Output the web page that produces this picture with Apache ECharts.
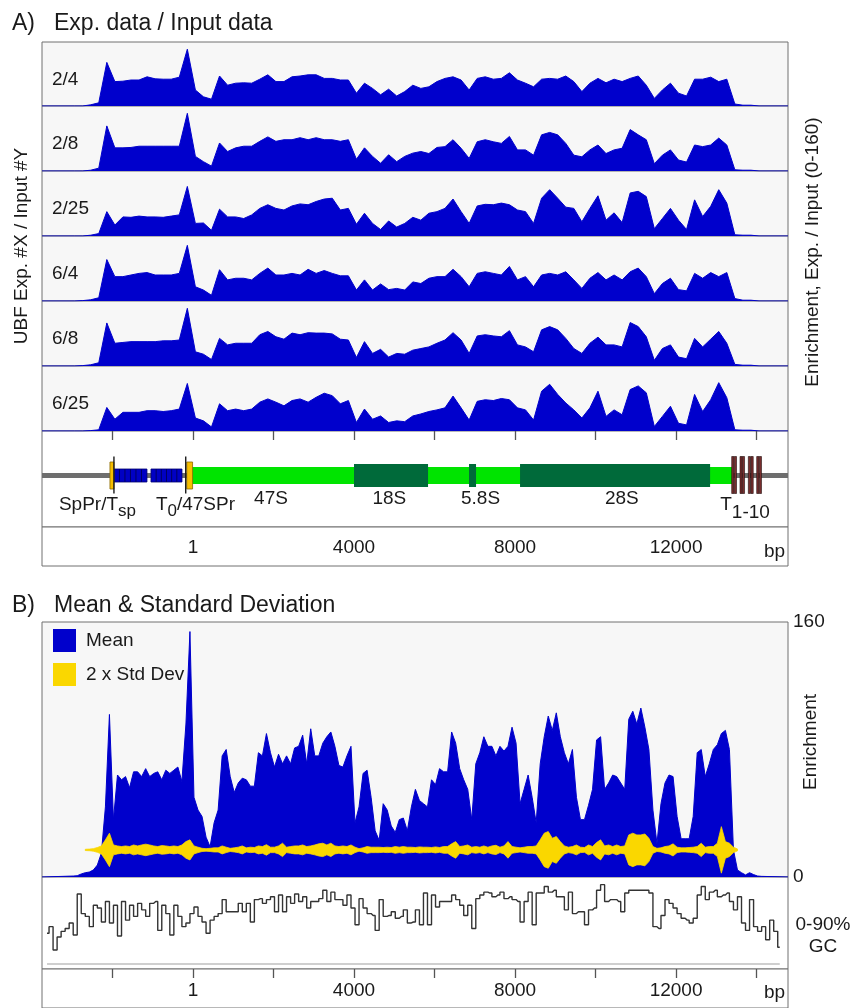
<!DOCTYPE html>
<html><head><meta charset="utf-8">
<script src="https://cdn.jsdelivr.net/npm/echarts@6/dist/echarts.min.js"></script>
<style>html,body{margin:0;padding:0;background:#fff}#c{width:852px;height:1008px}</style>
</head><body><div id="c"></div>
<script>
// ---------------- DATA ----------------
const X_MIN = -3750, X_MAX = 14780;                 // bp range of the plots
const tickValues = [-2000, 0, 2000, 4000, 6000, 8000, 10000, 12000, 14000];
const labelValues = [0, 4000, 8000, 12000];
const labelTexts = ['1', '4000', '8000', '12000'];

// Panel A: enrichment profiles (0-160), sampled every 200 bp from -2940 bp
const rowNames = ['2/4', '2/8', '2/25', '6/4', '6/8', '6/25'];
const rowStartBp = -2940, rowStepBp = 200;
const row2_4 = [0,0,3,8,109,61,62,65,65,73,68,67,67,72,142,40,23,17,75,52,57,58,57,67,78,61,61,73,75,78,78,69,69,65,65,32,57,44,28,42,25,36,52,44,48,61,69,73,65,40,69,73,67,69,83,65,57,48,67,69,67,75,61,36,57,69,58,67,61,69,75,52,19,40,57,32,25,67,67,72,61,67,5,2,2,0];
const row2_8 = [0,0,2,7,111,57,57,58,61,61,61,61,61,61,142,36,23,12,69,48,57,61,61,73,84,73,77,77,82,77,82,77,77,73,77,29,57,36,19,40,23,36,44,48,43,58,60,77,56,31,72,77,72,68,85,52,52,39,89,95,89,68,39,35,52,64,43,52,56,102,89,77,18,39,52,27,22,64,60,64,81,64,3,2,2,0];
const row2_25 = [0,0,2,6,60,27,47,46,49,47,47,46,49,52,122,31,32,14,66,47,47,43,52,68,77,68,64,74,79,77,85,91,93,64,68,29,56,31,16,37,22,31,46,39,56,60,68,91,60,31,74,78,77,81,77,64,60,31,93,114,93,71,68,35,68,99,39,57,33,106,110,97,18,43,68,39,16,89,48,73,114,81,3,2,2,0];
const row6_4 = [0,1,3,8,102,60,60,64,68,70,64,64,64,68,137,35,27,14,77,52,56,56,52,68,81,64,64,68,64,78,68,75,68,62,62,27,52,27,42,28,31,27,47,43,56,60,60,78,60,35,68,72,68,64,85,52,60,35,64,68,64,72,52,31,56,70,52,64,52,72,81,60,18,43,56,28,25,68,56,70,60,70,6,2,2,0];
const row6_8 = [0,1,3,8,106,56,58,60,60,60,60,62,62,64,142,35,29,16,68,52,56,56,56,77,85,72,66,81,77,82,81,81,79,66,64,21,60,31,41,22,31,29,39,43,47,56,64,82,64,31,74,77,74,72,87,52,47,35,89,97,89,68,43,31,56,71,52,52,47,107,97,72,14,43,52,22,18,68,47,66,85,56,4,2,2,0];
const row6_25 = [0,0,1,3,58,29,46,46,46,50,50,48,50,54,117,32,25,10,67,50,54,50,54,71,79,71,62,75,79,71,83,93,87,67,75,21,54,29,37,21,25,23,37,42,48,52,57,86,57,27,73,77,75,80,77,57,52,27,98,115,90,69,52,32,57,98,36,52,40,102,111,94,11,36,61,19,15,90,48,77,119,82,3,2,2,0];
const rowValues = [row2_4, row2_8, row2_25, row6_4, row6_8, row6_25];

// Panel B: mean enrichment, sampled every 100 bp from -2975 bp
const meanStartBp = -2975, meanStepBp = 100;
const meanValues = [0.6,0.8,1.9,2.7,3.1,4.4,7.5,15,44,102,
 36,64,61,63,56,66,66,63,68,63, 65,66,61,67,65,67,69,60,96,154,
 50,42,38,25,19,34,42,76,80,63, 53,59,62,61,57,57,78,76,90,78,
 69,77,71,76,71,81,82,89,71,93, 76,76,84,88,91,82,70,69,76,82,
 34,44,65,67,50,29,23,46,42,32, 28,36,37,29,44,55,48,46,44,61,
 58,68,66,66,91,84,68,61,55,36, 71,78,88,82,82,76,82,79,82,94,
 84,46,55,64,50,34,71,88,101,92, 103,88,78,71,80,50,36,36,45,55,
 86,88,55,59,64,63,59,55,99,104, 96,106,94,80,42,21,46,59,64,63,
 38,24,24,24,38,78,80,63,71,80, 83,90,92,80,17,4.4,2.7,1.3,2.7,1.5,
 0.6,0.4];
// Std dev band: drawn around a fixed level, half-widths per sample (same grid, from the 4th sample)
const sdLevel = 17;
const sdFirstIndex = 3;
const sdHalf = [0.4,0.5,0.8,1.5,2.5,6.3,10.5,
 3.1,2.5,2.1,2.5,2.1,3.1,2.5,3.1,3.6,3.1, 2.5,2.1,2.7,2.5,2.1,2.5,2.1,3.1,5.2,6.3,
 2.5,1.7,1,0.8,1,1.3,1.3,2.5,1.7,1, 1.3,1.7,2.5,1.3,1.7,1.5,2.5,2.1,3.3,1.7,
 1.7,2.5,4.2,1.7,2.1,2.5,2.5,3.1,2.1,2.5, 3.1,3.8,4.2,3.1,4.2,2.5,2.1,2.5,2.1,3.1,
 1.7,0.8,1.3,2.1,1.7,1.7,1.7,1.5,1.7,1.5, 2.1,1.7,2.1,1.7,1.7,1.5,1.9,1.7,1.7,1.5,
 1.9,1.5,2.1,2.1,3.8,5.2,2.1,2.5,3.1,1.7, 2.1,1.7,2.5,1.7,2.5,2.9,1.7,2.5,5.2,2.1,
 1.7,1.3,1.7,2.1,2.1,2.5,6.3,10.5,11.5,7.3, 8.4,5.2,2.5,1.7,2.1,3.1,1.7,1.5,3.1,2.1,
 4.6,6.3,2.5,3.1,2.1,3.1,2.1,2.5,9.4,10.5, 9.4,9.4,10,7.3,2.1,1,1.3,2.1,2.5,3.8,
 1.7,1.3,1.3,1.5,1.7,2.1,4.2,1.7,2.1,2.1, 4.2,14.6,5.2,4.2,1.7,0.6];

// GC content (%), step profile every 100 bp from -3625 bp
const gcStartBp = -3625, gcStepBp = 100;
const gcValues = [33,40,15,29,35,38,44,31,75,54, 51,40,63,60,45,67,44,63,30,67,
 47,63,51,65,58,51,65,67,36,63, 54,31,63,51,40,44,54,61,51,45,
 33,47,51,54,69,56,56,56,65,56, 65,45,69,70,65,69,72,56,74,56,
 72,65,75,67,72,60,67,67,70,79, 67,77,69,69,63,74,60,42,70,60,
 54,52,36,69,51,52,56,49,51,58, 44,45,58,42,76,42,74,61,67,67,
 67,74,69,63,52,63,38,70,74,77, 76,72,74,77,70,72,69,67,45,67,
 77,42,76,76,83,77,79,72,72,58, 77,54,56,56,42,58,60,79,85,67,
 69,69,67,56,76,79,79,79,79,79, 76,40,38,52,69,65,60,54,49,47,
 44,49,74,83,69,77,79,72,74,76, 67,58,72,44,36,69,40,35,40,26,
 47,35,18];

// rDNA map features (bp)
const regionNames = ['IGS', 'Enhancer 1', 'Enhancer 2', '47S', '18S', '5.8S', '28S'];
const regionStart = [X_MIN, -1963, -1043, -25, 4000, 6857, 8124];
const regionEnd   = [X_MAX, -1143, -273, 13391, 5839, 7031, 12845];
const regionKind  = ['spacer', 'repeat', 'repeat', 'pre', 'mature', 'mature', 'mature'];
const regionRepeats = [0, 6, 6, 0, 0, 0, 0];
const promoterStart = [-2062, -155];
const promoterEnd   = [-1963, -10];
const boundarySites = [-1963, -180];
const terminatorSites = [13409, 13474, 13615, 13673, 13822, 13889, 14030, 14094];
const mapLabels = ['{m|SpPr/T}{s|sp}', '{m|T}{s|0}{m|/47SPr}', '47S', '18S', '5.8S', '28S', '{m|T}{S|1-10}'];
const mapLabelBp = [-2373, 62, 1938, 4878, 7143, 10653, 13714];

// ---------------- STYLE / LAYOUT ----------------
const FONT = '"Liberation Sans", Arial, Helvetica, sans-serif';
const BLUE = '#0000cc', YELLOW = '#fad700', FRAME = '#707070', PANEL_BG = '#f7f7f7', TXT = '#1a1a1a';
const PLOT_LEFT = 42, PLOT_W = 746;
const rowTops = [42, 106, 171, 236, 301, 366];
const ROWS_BOTTOM = 431;
const MAP_MID = 44.5;
const kindHeight = {spacer: 5, repeat: 13, pre: 17, mature: 23};
const kindColor = {spacer: '#6e6e6e', repeat: '#0000c4', pre: '#00e400', mature: '#006a3a'};

const pairs = (start, step, vals) => vals.map((v, i) => [start + step * i, v]);
const padded = (arr) => [[X_MIN, 0]].concat(arr, [[X_MAX, 0]]);

const meanPairs = pairs(meanStartBp, meanStepBp, meanValues);
const sdPos = meanPairs.slice(sdFirstIndex, sdFirstIndex + sdHalf.length).map(p => p[0]);
const gcPairs = pairs(gcStartBp, gcStepBp, gcValues);

const chart = echarts.init(document.getElementById('c'), null, {renderer: 'canvas'});

const grids = [], xAxes = [], yAxes = [], series = [];
const hiddenX = (g) => ({gridIndex: g, type: 'value', min: X_MIN, max: X_MAX, show: false});
const tickX = (g, margin) => ({
  gridIndex: g, type: 'value', min: X_MIN, max: X_MAX, position: 'bottom',
  axisLine: {show: false},
  axisTick: {show: true, inside: false, length: 9, customValues: tickValues, lineStyle: {color: '#555', width: 1.3}},
  axisLabel: {show: true, customValues: labelValues, margin: margin, fontSize: 19, fontFamily: FONT, color: TXT,
    formatter: v => { const k = labelValues.indexOf(v); return k >= 0 ? labelTexts[k] : ''; }},
  splitLine: {show: false}
});

// rows 0-5
rowTops.forEach((t, i) => {
  const bottom = i < 5 ? rowTops[i + 1] : ROWS_BOTTOM;
  grids.push({left: PLOT_LEFT, width: PLOT_W, top: t, height: bottom - t, show: true, backgroundColor: PANEL_BG, borderColor: FRAME, borderWidth: 1});
  xAxes.push(hiddenX(i));
  yAxes.push({gridIndex: i, type: 'value', min: 0, max: 160, show: false});
  series.push({
    type: 'line', name: rowNames[i], xAxisIndex: i, yAxisIndex: i, silent: true,
    data: padded(pairs(rowStartBp, rowStepBp, rowValues[i])),
    symbol: 'none', lineStyle: {color: BLUE, width: 1}, areaStyle: {color: BLUE, opacity: 1}, z: 2
  });
});
// 6 gene map
grids.push({left: PLOT_LEFT, width: PLOT_W, top: ROWS_BOTTOM, height: 96, show: true, backgroundColor: '#fff', borderColor: FRAME, borderWidth: 1});
xAxes.push(tickX(6, 11));
yAxes.push({gridIndex: 6, type: 'value', min: 0, max: 96, inverse: true, show: false});
// 7 axis frame A
grids.push({left: PLOT_LEFT, width: PLOT_W, top: 527, height: 39, show: true, backgroundColor: '#fff', borderColor: FRAME, borderWidth: 1});
xAxes.push(hiddenX(7));
yAxes.push({gridIndex: 7, type: 'value', min: 0, max: 1, show: false});
// 8 mean
grids.push({left: PLOT_LEFT, width: PLOT_W, top: 622, height: 255, show: true, backgroundColor: PANEL_BG, borderColor: FRAME, borderWidth: 1});
xAxes.push(hiddenX(8));
yAxes.push({gridIndex: 8, type: 'value', min: 0, max: 160, interval: 160, position: 'right',
  axisLine: {show: false}, axisTick: {show: false}, splitLine: {show: false},
  axisLabel: {show: true, margin: 5, fontSize: 19, fontFamily: FONT, color: TXT}});
// 9 GC frame
grids.push({left: PLOT_LEFT, width: PLOT_W, top: 877, height: 92, show: true, backgroundColor: '#fff', borderColor: FRAME, borderWidth: 1});
xAxes.push(tickX(9, 12));
yAxes.push({gridIndex: 9, type: 'value', min: 0, max: 1, show: false});
// 10 GC data
grids.push({left: PLOT_LEFT, width: PLOT_W, top: 880, height: 84, show: false});
xAxes.push(hiddenX(10));
yAxes.push({gridIndex: 10, type: 'value', min: 0, max: 90, show: false});
// 11 axis frame B
grids.push({left: PLOT_LEFT, width: PLOT_W, top: 969, height: 60, show: true, backgroundColor: '#fff', borderColor: FRAME, borderWidth: 1});
xAxes.push(hiddenX(11));
yAxes.push({gridIndex: 11, type: 'value', min: 0, max: 1, show: false});

// gene map series
series.push({
  type: 'custom', xAxisIndex: 6, yAxisIndex: 6, silent: true, z: 3,
  data: regionStart.map((s, i) => [s, regionEnd[i], i]),
  renderItem: (params, api) => {
    const i = api.value(2);
    const a = api.coord([api.value(0), MAP_MID]);
    const b = api.coord([api.value(1), MAP_MID]);
    const kind = regionKind[i];
    const h = kindHeight[kind];
    const shape = {x: a[0], y: a[1] - h / 2, width: b[0] - a[0], height: h};
    const children = [{type: 'rect', shape: shape, style: {fill: kindColor[kind]}}];
    if (kind === 'repeat') {
      const n = regionRepeats[i];
      for (let j = 1; j < n; j++) {
        const x = a[0] + (b[0] - a[0]) * j / n;
        children.push({type: 'line', shape: {x1: x, y1: shape.y, x2: x, y2: shape.y + h}, style: {stroke: '#000060', lineWidth: 1}});
      }
      children.push({type: 'rect', shape: shape, style: {fill: 'none', stroke: '#000070', lineWidth: 0.8}});
    }
    return {type: 'group', children: children};
  }
});
series.push({
  type: 'custom', xAxisIndex: 6, yAxisIndex: 6, silent: true, z: 4,
  data: promoterStart.map((s, i) => [s, promoterEnd[i]]),
  renderItem: (params, api) => {
    const a = api.coord([api.value(0), MAP_MID]);
    const b = api.coord([api.value(1), MAP_MID]);
    return {type: 'rect', shape: {x: a[0], y: a[1] - 13.5, width: Math.max(3, b[0] - a[0]), height: 27},
      style: {fill: '#f6be00', stroke: '#8c6a00', lineWidth: 0.8}};
  }
});
series.push({
  type: 'custom', xAxisIndex: 6, yAxisIndex: 6, silent: true, z: 5,
  data: boundarySites.map(s => [s, 0]),
  renderItem: (params, api) => {
    const a = api.coord([api.value(0), MAP_MID]);
    return {type: 'line', shape: {x1: a[0], y1: a[1] - 19, x2: a[0], y2: a[1] + 18}, style: {stroke: '#1a1a1a', lineWidth: 1.4}};
  }
});
series.push({
  type: 'custom', xAxisIndex: 6, yAxisIndex: 6, silent: true, z: 5,
  data: terminatorSites.map(s => [s, 0]),
  renderItem: (params, api) => {
    const a = api.coord([api.value(0), MAP_MID]);
    return {type: 'rect', shape: {x: a[0] - 1.1, y: a[1] - 19, width: 2.2, height: 37},
      style: {fill: '#7a2e2e', stroke: '#1e0c0c', lineWidth: 0.6}};
  }
});
series.push({
  type: 'custom', xAxisIndex: 6, yAxisIndex: 6, silent: true, z: 6,
  data: mapLabelBp.map((p, i) => [p, i]),
  renderItem: (params, api) => {
    const i = api.value(1);
    const txt = mapLabels[i];
    const rich = txt.indexOf('{') === 0;
    const p = api.coord([api.value(0), rich ? 75.3 : 67.5]);
    return {type: 'text', x: p[0], y: p[1], style: {
      text: txt, align: 'center', verticalAlign: 'middle', fontSize: 19, fontFamily: FONT, fill: TXT,
      rich: {
        m: {fontSize: 19, fontFamily: FONT, fill: TXT, color: TXT, lineHeight: 22, verticalAlign: 'top'},
        s: {fontSize: 17, fontFamily: FONT, fill: TXT, color: TXT, lineHeight: 17, verticalAlign: 'top', padding: [8, 0, 0, 0]},
        S: {fontSize: 19, fontFamily: FONT, fill: TXT, color: TXT, lineHeight: 19, verticalAlign: 'top', padding: [8, 0, 0, 0]}
      }
    }};
  }
});

// mean + std dev band
series.push({
  type: 'line', name: 'Mean', xAxisIndex: 8, yAxisIndex: 8, silent: true, z: 2,
  data: padded(meanPairs), symbol: 'none', itemStyle: {color: BLUE},
  lineStyle: {color: BLUE, width: 1}, areaStyle: {color: BLUE, opacity: 1}
});
series.push({
  type: 'custom', name: '2 x Std Dev', xAxisIndex: 8, yAxisIndex: 8, silent: true, z: 3,
  itemStyle: {color: YELLOW},
  data: sdPos.map((x, i) => [x, sdLevel - sdHalf[i], sdLevel + sdHalf[i]]),
  renderItem: (params, api) => {
    if (params.dataIndex !== 0) return;
    const top = [], bot = [];
    for (let i = 0; i < sdPos.length; i++) {
      top.push(api.coord([sdPos[i], sdLevel + sdHalf[i]]));
      bot.push(api.coord([sdPos[i], sdLevel - sdHalf[i]]));
    }
    return {type: 'polygon', shape: {points: top.concat(bot.reverse())},
      style: {fill: YELLOW, stroke: YELLOW, lineWidth: 0.8}};
  }
});
// GC
series.push({
  type: 'line', name: 'GC', xAxisIndex: 10, yAxisIndex: 10, silent: true, z: 3,
  data: gcPairs, step: 'middle', symbol: 'none', lineStyle: {color: '#333', width: 1.4},
  markLine: {silent: true, symbol: 'none', label: {show: false}, lineStyle: {color: '#cfcfcf', width: 2, type: 'solid'},
    data: [[{coord: [gcPairs[0][0], 0]}, {coord: [gcPairs[gcPairs.length - 1][0], 0]}]]}
});

const txt = (text, x, y, opts) => Object.assign({type: 'text', x: x, y: y, silent: true, style: Object.assign({
  text: text, fontSize: 19, fontFamily: FONT, fill: TXT, align: 'left', verticalAlign: 'middle'}, (opts && opts.style) || {})},
  (opts && opts.el) || {});
const graphics = [
  txt('A)', 12, 23.5, {style: {fontSize: 23}}),
  txt('Exp. data / Input data', 54, 23.5, {style: {fontSize: 23}}),
  txt('B)', 12, 606, {style: {fontSize: 23}}),
  txt('Mean & Standard Deviation', 54, 606, {style: {fontSize: 23}}),
  txt('UBF Exp. #X / Input #Y', 22, 246, {style: {align: 'center'}, el: {rotation: Math.PI / 2}}),
  txt('Enrichment, Exp. / Input (0-160)', 813, 252, {style: {align: 'center'}, el: {rotation: Math.PI / 2}}),
  txt('Enrichment', 811, 742, {style: {align: 'center'}, el: {rotation: Math.PI / 2}}),
  txt('0-90%', 823, 925, {style: {align: 'center'}}),
  txt('GC', 823, 947, {style: {align: 'center'}}),
  txt('bp', 764, 552),
  txt('bp', 764, 993)
];
rowNames.forEach((n, i) => graphics.push(txt(n, 52, rowTops[i] + 38)));

chart.setOption({
  animation: false,
  backgroundColor: '#fff',
  textStyle: {fontFamily: FONT},
  grid: grids, xAxis: xAxes, yAxis: yAxes, series: series,
  legend: {
    data: [{name: 'Mean'}, {name: '2 x Std Dev'}], orient: 'vertical', left: 53, top: 629, padding: 0,
    itemWidth: 23, itemHeight: 23, itemGap: 11, icon: 'rect', selectedMode: false,
    textStyle: {fontSize: 19, fontFamily: FONT, color: TXT, padding: [0, 0, 0, 5]}
  },
  graphic: graphics
});
</script>
</body></html>
